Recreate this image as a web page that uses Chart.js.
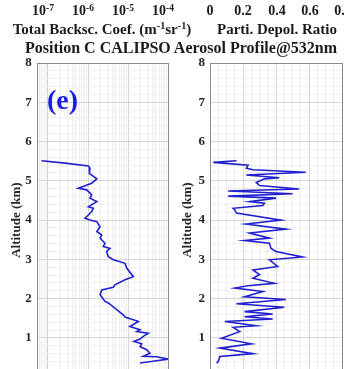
<!DOCTYPE html>
<html>
<head>
<meta charset="utf-8">
<script src="https://cdn.jsdelivr.net/npm/chart.js@4"></script>
<style>
  html, body { margin:0; padding:0; background:#fff; width:344px; height:369px; overflow:hidden; }
  #wrap { position:relative; width:344px; height:369px; overflow:hidden; }
  canvas { position:absolute; top:0; }
  .txt { position:absolute; font-family:"Liberation Serif","Times New Roman",serif; font-weight:bold; color:#1a1a1a; white-space:nowrap; line-height:1; z-index:2; }
  .txt sup { font-size:0.68em; vertical-align:0.45em; line-height:0; }
</style>
</head>
<body>
<div id="wrap">
  <canvas id="left" width="172" height="390" style="left:0px;width:172px;height:390px"></canvas>
  <canvas id="right" width="172" height="390" style="left:172px;width:172px;height:390px"></canvas>
</div>
<script>
// ---- data ----
// upper (cropped) panel tick labels shown at the top
const upperBsExponents = [-7, -6, -5, -4];
const upperBsTickX = [43, 83, 123, 163];
const upperDepolLabels = ['0', '0.2', '0.4', '0.6', '0.8'];
const upperDepolTickX = [210, 243, 277, 310, 343];

const altTicks = [0, 1, 2, 3, 4, 5, 6, 7, 8];

// Total backscatter coefficient profile (m^-1 sr^-1)
const bsAltitude = [5.51, 5.45, 5.38, 5.32, 5.19, 5.05, 4.94, 4.81, 4.77, 4.64, 4.56, 4.47, 4.34, 4.30, 4.22, 4.13, 4.05, 4.00, 3.96, 3.83, 3.71, 3.62, 3.54, 3.41, 3.33, 3.28, 3.20, 3.07, 2.99, 2.90, 2.78, 2.56, 2.48, 2.35, 2.29, 2.22, 2.10, 1.99, 1.93, 1.89, 1.76, 1.59, 1.53, 1.46, 1.42, 1.29, 1.21, 1.16, 1.12, 1.04, 0.97, 0.91, 0.85, 0.78, 0.70, 0.61, 0.53, 0.52, 0.46, 0.42, 0.36];
const bsCoef = [6.9e-8, 2.66e-7, 1.02e-6, 1.12e-6, 1.08e-6, 1.66e-6, 1.24e-6, 5.7e-7, 9.3e-7, 1.24e-6, 1.12e-6, 1.66e-6, 1.02e-6, 1.36e-6, 1.24e-6, 1.02e-6, 8.4e-7, 1.12e-6, 1.66e-6, 2.0e-6, 1.66e-6, 2.2e-6, 2.0e-6, 2.66e-6, 2.41e-6, 3.55e-6, 2.93e-6, 3.22e-6, 4.29e-6, 8.4e-6, 9.3e-6, 1.36e-5, 8.4e-6, 4.7e-6, 4.29e-6, 2.2e-6, 2.0e-6, 2.41e-6, 2.66e-6, 3.22e-6, 4.7e-6, 7.6e-6, 8.4e-6, 1.36e-5, 1.81e-5, 1.12e-5, 2.0e-5, 1.65e-5, 3.22e-5, 2.41e-5, 2.0e-5, 1.41e-5, 2.2e-5, 2.0e-5, 2.93e-5, 3.55e-5, 2.41e-5, 5.2e-5, 1.02e-4, 5.2e-5, 2.0e-5];

// Particulate depolarization ratio profile
const dpAltitude = [5.51, 5.47, 5.40, 5.32, 5.28, 5.22, 5.15, 5.08, 5.05, 4.96, 4.88, 4.79, 4.74, 4.67, 4.61, 4.56, 4.47, 4.43, 4.37, 4.30, 4.26, 4.18, 4.00, 3.90, 3.77, 3.67, 3.54, 3.48, 3.41, 3.28, 3.20, 3.06, 2.99, 2.82, 2.73, 2.61, 2.52, 2.39, 2.33, 2.27, 2.18, 2.05, 1.98, 1.87, 1.78, 1.67, 1.61, 1.54, 1.48, 1.42, 1.31, 1.27, 1.16, 0.99, 0.85, 0.74, 0.60, 0.53, 0.40, 0.36];
const dpRatio = [0.161, 0.02, 0.231, 0.22, 0.26, 0.58, 0.22, 0.42, 0.33, 0.28, 0.30, 0.54, 0.11, 0.50, 0.11, 0.40, 0.24, 0.33, 0.32, 0.14, 0.15, 0.16, 0.43, 0.22, 0.46, 0.24, 0.36, 0.21, 0.36, 0.37, 0.40, 0.56, 0.36, 0.41, 0.26, 0.30, 0.26, 0.39, 0.23, 0.15, 0.32, 0.21, 0.46, 0.16, 0.45, 0.21, 0.38, 0.21, 0.38, 0.09, 0.28, 0.14, 0.18, 0.07, 0.25, 0.06, 0.26, 0.06, 0.05, 0.04];

// ---- text (HTML) ----
const wrap = document.getElementById('wrap');
function addText(html, x, y, size, align, color) {
  const d = document.createElement('div');
  d.className = 'txt';
  d.innerHTML = html;
  d.style.fontSize = size + 'px';
  d.style.top = y + 'px';
  if (color) d.style.color = color;
  wrap.appendChild(d);
  const w = d.getBoundingClientRect().width;
  d.style.left = (align === 'center' ? x - w / 2 : x) + 'px';
  return d;
}
upperBsExponents.forEach((e, i) => addText('10<sup>' + e + '</sup>', upperBsTickX[i], 4, 14, 'center'));
upperDepolLabels.forEach((l, i) => addText(l, upperDepolTickX[i], 4, 14, 'center'));
addText('Total Backsc. Coef. (m<sup>-1</sup>sr<sup>-1</sup>)', 102, 22, 15, 'center');
addText('Parti. Depol. Ratio', 277, 22, 15, 'center');
addText('Position C CALIPSO Aerosol Profile@532nm', 181, 40, 16, 'center');
addText('(e)', 47, 86, 28, 'left', '#1b1be6');

// ---- charts ----
const FONT = { family: '"Liberation Serif","Times New Roman",serif', weight: 'bold', size: 13 };
const MAJOR = '#d4d4d4', MINOR = '#efefef';

const boxPlugin = {
  id: 'box',
  afterDraw(chart) {
    const a = chart.chartArea, c = chart.ctx;
    c.save();
    c.strokeStyle = '#8a8a8a';
    c.lineWidth = 1;
    c.strokeRect(Math.round(a.left) + 0.5, Math.round(a.top) + 0.5, Math.round(a.right - a.left), Math.round(a.bottom - a.top));
    c.restore();
  }
};

function yAxis(width, titlePad) {
  return {
    type: 'linear', min: altTicks[0], max: altTicks[altTicks.length - 1],
    afterFit(s) { s.width = width; },
    afterBuildTicks(s) {
      const t = [];
      for (let i = 0; i <= altTicks[altTicks.length - 1] * 5; i++) t.push({ value: i / 5 });
      s.ticks = t;
    },
    ticks: {
      autoSkip: false, padding: 5, color: '#262626', font: FONT,
      callback(v) { return Math.abs(v - Math.round(v)) < 1e-9 && altTicks.includes(Math.round(v)) ? String(Math.round(v)) : ''; }
    },
    grid: {
      drawTicks: false,
      color(ctx) { const v = ctx.tick ? ctx.tick.value : 0; return Math.abs(v - Math.round(v)) < 1e-9 ? MAJOR : MINOR; }
    },
    border: { display: false },
    title: { display: true, text: 'Altitude (km)', color: '#262626', font: FONT, padding: { top: titlePad, bottom: 0 } }
  };
}

function pts(xs, ys) { return xs.map((x, i) => ({ x: x, y: ys[i] })); }

// left panel: logarithmic backscatter
new Chart(document.getElementById('left'), {
  type: 'scatter',
  data: { datasets: [{ data: pts(bsCoef, bsAltitude), showLine: true, borderColor: '#2020d0', borderWidth: 1.6, pointRadius: 0, tension: 0 }] },
  options: {
    responsive: false, animation: false,
    layout: { padding: { top: 63, right: 4, left: 0, bottom: 0 } },
    plugins: { legend: { display: false }, tooltip: { enabled: false } },
    scales: {
      x: {
        type: 'logarithmic', min: Math.pow(10, -7.2825), max: 1e-4,
        afterFit(s) { s.height = 0; },
        afterBuildTicks(s) {
          const t = [];
          for (let e = -8; e <= -4; e++) for (let m = 1; m <= 9; m++) {
            const v = m * Math.pow(10, e);
            if (v >= s.min * 0.999 && v <= s.max * 1.001) t.push({ value: v, major: m === 1 });
          }
          s.ticks = t;
        },
        ticks: { display: false, autoSkip: false },
        grid: { drawTicks: false, color(ctx) { return ctx.tick && ctx.tick.major ? MAJOR : MINOR; } },
        border: { display: false }
      },
      y: yAxis(36.7, 9)
    }
  },
  plugins: [boxPlugin]
});

// right panel: depolarization ratio
new Chart(document.getElementById('right'), {
  type: 'scatter',
  data: { datasets: [{ data: pts(dpRatio, dpAltitude), showLine: true, borderColor: '#2020d0', borderWidth: 1.6, pointRadius: 0, tension: 0 }] },
  options: {
    responsive: false, animation: false,
    layout: { padding: { top: 63, right: 2, left: 0, bottom: 0 } },
    plugins: { legend: { display: false }, tooltip: { enabled: false } },
    scales: {
      x: {
        type: 'linear', min: 0, max: 0.8,
        afterFit(s) { s.height = 0; },
        afterBuildTicks(s) {
          const t = [];
          for (let i = 0; i <= 16; i++) t.push({ value: i / 20, major: i % 4 === 0 });
          s.ticks = t;
        },
        ticks: { display: false, autoSkip: false },
        grid: { drawTicks: false, color(ctx) { return ctx.tick && ctx.tick.major ? MAJOR : MINOR; } },
        border: { display: false }
      },
      y: yAxis(38, 8)
    }
  },
  plugins: [boxPlugin]
});
</script>
</body>
</html>
